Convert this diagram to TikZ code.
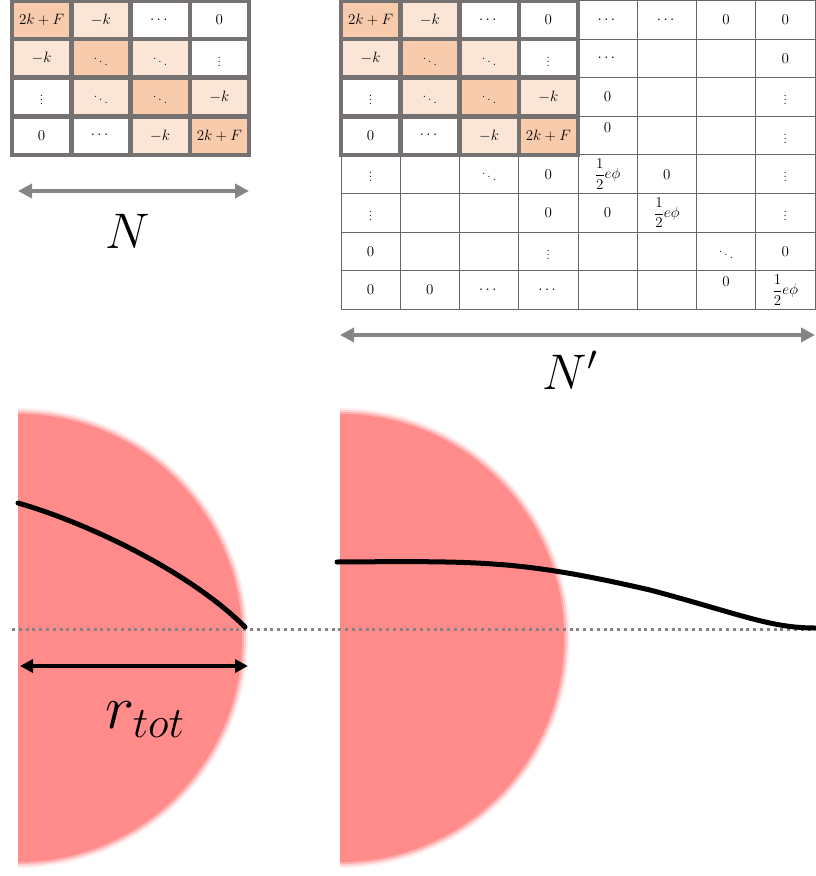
\RequirePackage{fix-cm}
\documentclass[tikz,border=0pt]{standalone}
\usepackage{amsmath}
\usepackage{xcolor}
\usepackage{tikz}
\usetikzlibrary{arrows.meta, positioning, calc}

\definecolor{diagc}{HTML}{F8CBAD}
\definecolor{offc}{HTML}{FBE5D6}
\definecolor{framec}{HTML}{767171}
\definecolor{arrc}{HTML}{858585}
\definecolor{diskc}{HTML}{FF8B8B}

\def\tridiag{{2k+F,-k,\cdots,0},{-k,\ddots,\ddots,\vdots},{\vdots,\ddots,\ddots,-k},{0,\cdots,-k,2k+F}}

\begin{document}
\begin{tikzpicture}[
    x=1pt, y=1pt,
    every node/.style = {inner sep=0pt, outer sep=0pt},
    entry/.style = {font=\fontsize{15}{17}\selectfont},
    cthick/.style = {draw=framec, line width=4.5pt},
    cthin/.style  = {draw=black!60, line width=1pt},
    biglbl/.style = {font=\fontsize{50}{60}\selectfont},
    dimarr/.style = {{Triangle[length=14pt, width=14pt]}-{Triangle[length=14pt, width=14pt]},
                     line width=4.5pt, arrc},
    radarr/.style = {{Triangle[length=13pt, width=13pt]}-{Triangle[length=13pt, width=13pt]},
                     line width=3.8pt, black},
    prof/.style = {line width=5pt, line cap=round, black},
    axis/.style = {arrc, line width=3pt, dash pattern=on 3pt off 3.8pt},
  ]
  \useasboundingbox (0,0) rectangle (815,-876);

  \foreach \row [count=\r] in {
      {{},{},{},{},\cdots,\cdots,0,0},
      {{},{},{},{},\cdots,{},{},0},
      {{},{},{},{},0,{},{},\vdots},
      {{},{},{},{},\raisebox{8pt}[\height]{$0$},{},{},\vdots},
      {\vdots,{},\ddots,0,\dfrac{1}{2}e\phi,0,{},\vdots},
      {\vdots,{},{},0,0,\dfrac{1}{2}e\phi,{},\vdots},
      {0,{},{},\vdots,{},{},\ddots,0},
      {0,0,\cdots,\cdots,{},{},\raisebox{8pt}[\height]{$0$},\dfrac{1}{2}e\phi}}
    \foreach \e [count=\c] in \row {
      \pgfmathtruncatemacro\inblk{(\r<5)&&(\c<5)}
      \ifnum\inblk=0
        \draw[cthin] ({341+59.25*(\c-1)}, {-0.5-38.6*(\r-1)}) rectangle ++(59.25,-38.6);
        \node[entry] (bg\r\c) at ({370.6+59.25*(\c-1)}, {-19.8-38.6*(\r-1)}) {$\e$};
      \fi
    }

  \foreach \mx/\pre in {12/sm, 341/bk}
    \foreach \row [count=\r] in \tridiag
      \foreach \e [count=\c] in \row {
        \pgfmathtruncatemacro\dd{abs(\r-\c)}
        \ifcase\dd \def\cf{diagc}\or \def\cf{offc}\else \def\cf{white}\fi
        \filldraw[cthick, fill=\cf] ({\mx+59.25*(\c-1)}, {-0.5-38.6*(\r-1)}) rectangle ++(59.25,-38.6);
        \node[entry] (\pre\r\c) at ({\mx+29.6+59.25*(\c-1)}, {-19.8-38.6*(\r-1)}) {$\e$};
      }

  \coordinate (nl) at (18,-191);
  \coordinate (nr) at (249,-191);
  \draw[dimarr] (nl) -- (nr);
  \node[biglbl, anchor=base] (lblN) at (128,-248) {$N$};

  \coordinate (npl) at (340,-335);
  \coordinate (npr) at (815,-335);
  \draw[dimarr] (npl) -- (npr);
  \node[biglbl, anchor=base] (lblNp) at (570,-389) {$N'$};

  \foreach \cx in {18,340}
    \foreach \dr/\op in {4/0.15, 2/0.3, 0/0.5, -2/1}
      \fill[diskc, opacity=\op] (\cx,{-638+226+\dr})
        arc[start angle=90, end angle=-90, radius={226+\dr}] -- cycle;

  \draw[axis] (12,-629) -- (815,-629);

  \draw[prof] (18,-503) .. controls (88,-523) and (190,-572) .. (245,-627);
  \draw[prof] (337,-562) .. controls (480,-561) and (520,-560) .. (650,-590)
    .. controls (740,-614) and (770,-628) .. (815,-628);

  \coordinate (rl) at (20,-666);
  \coordinate (rr) at (248,-666);
  \draw[radarr] (rl) -- (rr);
  \node[font=\fontsize{62}{68}\selectfont, anchor=base] (lblr) at (145,-728) {$r_{tot}$};
\end{tikzpicture}
\end{document}
